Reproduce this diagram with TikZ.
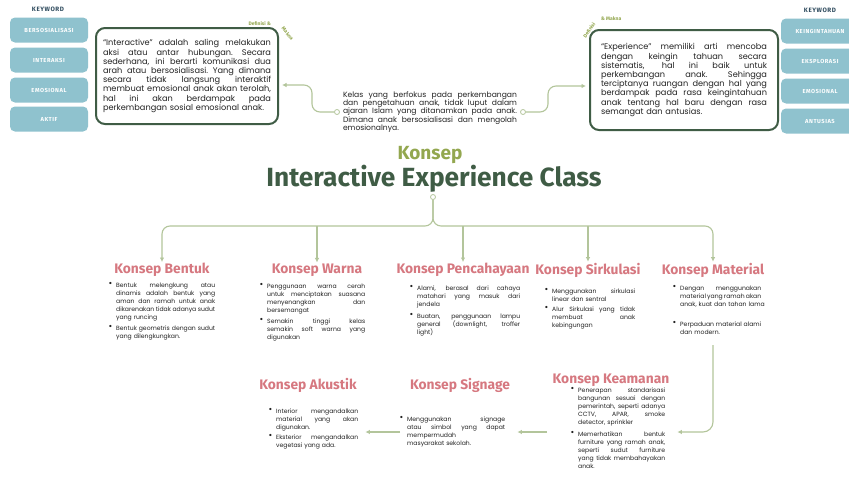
\documentclass[tikz,border=0pt]{standalone}
\usepackage{fontspec}
\setmainfont{Poppins}
\newfontfamily\headfont{Fira Sans}
\newfontfamily\kwfont{Fira Sans}[LetterSpace=9]
\usetikzlibrary{arrows.meta, positioning, calc}

\definecolor{darkgreen}{HTML}{3F5C45}
\definecolor{olive}{HTML}{93A74F}
\definecolor{sage}{HTML}{B3C59B}
\definecolor{tealbox}{HTML}{8FC2CE}
\definecolor{navy}{HTML}{2F4B5E}
\definecolor{pinkhead}{HTML}{D67880}
\definecolor{textcol}{HTML}{222222}

% justified line / last line of a paragraph
\newlength{\jw}
\newcommand{\jl}[1]{\noindent\hbox to\jw{\spaceskip=\fontdimen2\font plus 1fil minus .5\fontdimen2\font\relax
    \xspaceskip=\spaceskip #1}\par}
\newcommand{\jend}[1]{\noindent\mbox{#1}\par}

\begin{document}
\begin{tikzpicture}[x=1pt, y=-1pt,
    conn/.style={draw=sage, line width=1.1pt},
    arr/.style={-{Latex[length=4.5pt,width=4.5pt]}},
    jwidth/.style={text width=#1, execute at begin node={\setlength{\jw}{#1}}},
    kwbox/.style={fill=tealbox, rounded corners=5pt, minimum width=78pt, minimum height=25pt,
        inner sep=0pt, text=white, font=\kwfont\bfseries\fontsize{5.8}{6}\selectfont},
    kwtitle/.style={text=navy, font=\kwfont\bfseries\fontsize{6.3}{7}\selectfont},
    defbox/.style={draw=darkgreen, line width=2pt, rounded corners=9pt, fill=white,
        font=\fontsize{8.2}{9.2}\selectfont, text=textcol},
    deflbl/.style={text=olive, font=\headfont\bfseries\fontsize{5}{6}\selectfont, inner sep=0pt},
    konsephead/.style={text=pinkhead, font=\headfont\bfseries\fontsize{13.8}{15}\selectfont, inner sep=1pt},
    bulitem/.style={anchor=north west, inner sep=0pt, jwidth=#1,
        font=\fontsize{6.1}{8}\selectfont, text=textcol,
        label={[anchor=north east, inner sep=0pt, xshift=-3.5pt, yshift=1pt, text=textcol,
            font=\fontsize{9}{8}\selectfont]north west:\textbullet}},
    knot/.style={circle, draw=sage, line width=0.8pt, fill=white, inner sep=0pt, minimum size=5pt}]

    \fill[white] (0,0) rectangle (849,477);
    \useasboundingbox (0,0) rectangle (849,477);

    % Keywords left
    \node[kwtitle] (kwL) at (48,9) {KEYWORD};
    \node[kwbox] (kwL1) at (49,30) {BERSOSIALISASI};
    \node[kwbox] (kwL2) at (49,60) {INTERAKSI};
    \node[kwbox] (kwL3) at (49,90) {EMOSIONAL};
    \node[kwbox] (kwL4) at (49,119) {AKTIF};

    % Keywords right
    \node[kwtitle] (kwR) at (820,10) {KEYWORD};
    \node[kwbox] (kwR1) at (820,31) {KEINGINTAHUAN};
    \node[kwbox] (kwR2) at (820,61) {EKSPLORASI};
    \node[kwbox] (kwR3) at (820,91) {EMOSIONAL};
    \node[kwbox] (kwR4) at (820,121) {ANTUSIAS};

    % Definisi & Makna boxes
    \node[defbox, minimum width=182pt, minimum height=96pt, inner xsep=7pt, jwidth=168pt] (defL) at (187,76)
        {\jl{``Interactive'' adalah saling melakukan}\jl{aksi atau antar hubungan. Secara}\jl{sederhana, ini berarti komunikasi dua}\jl{arah atau bersosialisasi. Yang dimana}\jl{secara tidak langsung interaktif}\jl{membuat emosional anak akan terolah,}\jl{hal ini akan berdampak pada}\jend{perkembangan sosial emosional anak.}};
    \node[defbox, minimum width=188pt, minimum height=100pt, inner xsep=11pt, jwidth=166pt] (defR) at (684,80)
        {\jl{``Experience'' memiliki arti mencoba}\jl{dengan keingin tahuan secara}\jl{sistematis, hal ini baik untuk}\jl{perkembangan anak. Sehingga}\jl{terciptanya ruangan dengan hal yang}\jl{berdampak pada rasa keingintahuan}\jl{anak tentang hal baru dengan rasa}\jend{semangat dan antusias.}};

    \node[deflbl, anchor=south east] (defLa) at (271,26) {Definisi \&};
    \node[deflbl, anchor=south west, rotate=-50] (defLb) at (281,29) {Makna};
    \node[deflbl, anchor=south east, rotate=55] (defRa) at (596,24) {Definisi};
    \node[deflbl, anchor=south west] (defRb) at (601,21) {\& Makna};

    % Center text
    \node[jwidth=174pt, inner sep=0pt, font=\fontsize{7.6}{8.4}\selectfont, text=textcol] (intro) at (430,112)
        {\jl{Kelas yang berfokus pada perkembangan}\jl{dan pengetahuan anak, tidak luput dalam}\jl{ajaran Islam yang ditanamkan pada anak.}\jl{Dimana anak bersosialisasi dan mengolah}\jend{emosionalnya.}};
    \node[knot] (lc) at (337,112) {};
    \node[knot] (rc) at (523,112) {};
    \draw[conn, arr, rounded corners=8pt, shorten >=3pt] (lc) -- ++(-25,0) |- ([yshift=-9pt]defL.east);
    \draw[conn, arr, rounded corners=8pt, shorten >=3pt] (rc) -- ++(25,0) |- ([yshift=-6pt]defR.west);

    % Title
    \node[text=olive, font=\headfont\bfseries\fontsize{19}{21}\selectfont] (konsep) at (430,155) {Konsep};
    \node[text=darkgreen, font=\headfont\bfseries\fontsize{26.3}{28}\selectfont] (title) at (434,179) {Interactive Experience Class};
    \node[knot] (hub) at (433,197) {};
    \coordinate (bus) at (433,226);

    % Konsep headings
    \node[konsephead] (bentuk) at (162,270) {Konsep Bentuk};
    \node[konsephead] (warna) at (317,270) {Konsep Warna};
    \node[konsephead] (cahaya) at (463,270) {Konsep Pencahayaan};
    \node[konsephead] (sirkulasi) at (588,270) {Konsep Sirkulasi};
    \node[konsephead] (material) at (713,270) {Konsep Material};
    \node[konsephead] (keamanan) at (611,380) {Konsep Keamanan};
    \node[konsephead] (signage) at (460,385) {Konsep Signage};
    \node[konsephead] (akustik) at (308,385) {Konsep Akustik};

    % Tree
    \draw[conn, arr, rounded corners=8pt] (hub) |- (bentuk.north |- bus) -- (bentuk.north);
    \draw[conn, arr, rounded corners=8pt] (hub) |- (material.north |- bus) -- (material.north);
    \draw[conn, arr] (warna.north |- bus) -- (warna.north);
    \draw[conn, arr] (cahaya.north |- bus) -- (cahaya.north);
    \draw[conn, arr] (sirkulasi.north |- bus) -- (sirkulasi.north);

    % Bullet points
    \node[bulitem=99pt] (bentuk1) at (116,283) {\jl{Bentuk melengkung atau}\jl{dinamis adalah bentuk yang}\jl{aman dan ramah untuk anak}\jl{dikarenakan tidak adanya sudut}\jend{yang runcing}};
    \node[bulitem=99pt] (bentuk2) at (116,326) {\jl{Bentuk geometris dengan sudut}\jend{yang dilengkungkan.}};

    \node[bulitem=98pt] (warna1) at (267,284) {\jl{Penggunaan warna cerah}\jl{untuk menciptakan suasana}\jl{menyenangkan dan}\jend{bersemangat}};
    \node[bulitem=98pt] (warna2) at (267,319) {\jl{Semakin tinggi kelas}\jl{semakin soft warna yang}\jend{digunakan}};

    \node[bulitem=103pt] (cahaya1) at (417,286) {\jl{Alami, berasal dari cahaya}\jl{matahari yang masuk dari}\jend{jendela}};
    \node[bulitem=103pt] (cahaya2) at (417,314) {\jl{Buatan, penggunaan lampu}\jl{general (downlight, troffer}\jend{light)}};

    \node[bulitem=83pt] (sirkulasi1) at (552,289) {\jl{Menggunakan sirkulasi}\jend{linear dan sentral}};
    \node[bulitem=83pt] (sirkulasi2) at (552,307) {\jl{Alur Sirkulasi yang tidak}\jl{membuat anak}\jend{kebingungan}};

    \node[bulitem=81pt] (material1) at (680,286) {\jl{Dengan menggunakan}\jl{material yang ramah akan}\jend{anak, kuat dan tahan lama}};
    \node[bulitem=81pt] (material2) at (680,322) {\jl{Perpaduan material alami}\jend{dan modern.}};

    \node[bulitem=87pt] (keamanan1) at (578,388) {\jl{Penerapan standarisasi}\jl{bangunan sesuai dengan}\jl{pemerintah, seperti adanya}\jl{CCTV, APAR, smoke}\jend{detector, sprinkler}};
    \node[bulitem=87pt] (keamanan2) at (578,432) {\jl{Memerhatikan bentuk}\jl{furniture yang ramah anak,}\jl{seperti sudut furniture}\jl{yang tidak membahayakan}\jend{anak.}};

    \node[bulitem=98pt] (signage1) at (407,417) {\jl{Menggunakan signage}\jl{atau simbol yang dapat}\jend{mempermudah}\jend{masyarakat sekolah.}};

    \node[bulitem=82pt] (akustik1) at (276,409) {\jl{Interior mengandalkan}\jl{material yang akan}\jend{digunakan.}};
    \node[bulitem=82pt] (akustik2) at (276,435) {\jl{Eksterior mengandalkan}\jend{vegetasi yang ada.}};

    % Second row flow
    \coordinate (matdrop) at ($(material2.south -| material)+(0,10)$);
    \draw[conn, arr, rounded corners=10pt] (matdrop) |- ([xshift=12pt]keamanan2.north east);
    \draw[conn, arr, shorten <=31pt, shorten >=12pt] (keamanan2.north west) -- (signage1.east |- keamanan2.north west);
    \draw[conn, arr, shorten <=7pt, shorten >=7pt] (signage1.west |- keamanan2.north west) -- (akustik1.east |- keamanan2.north west);
\end{tikzpicture}
\end{document}
